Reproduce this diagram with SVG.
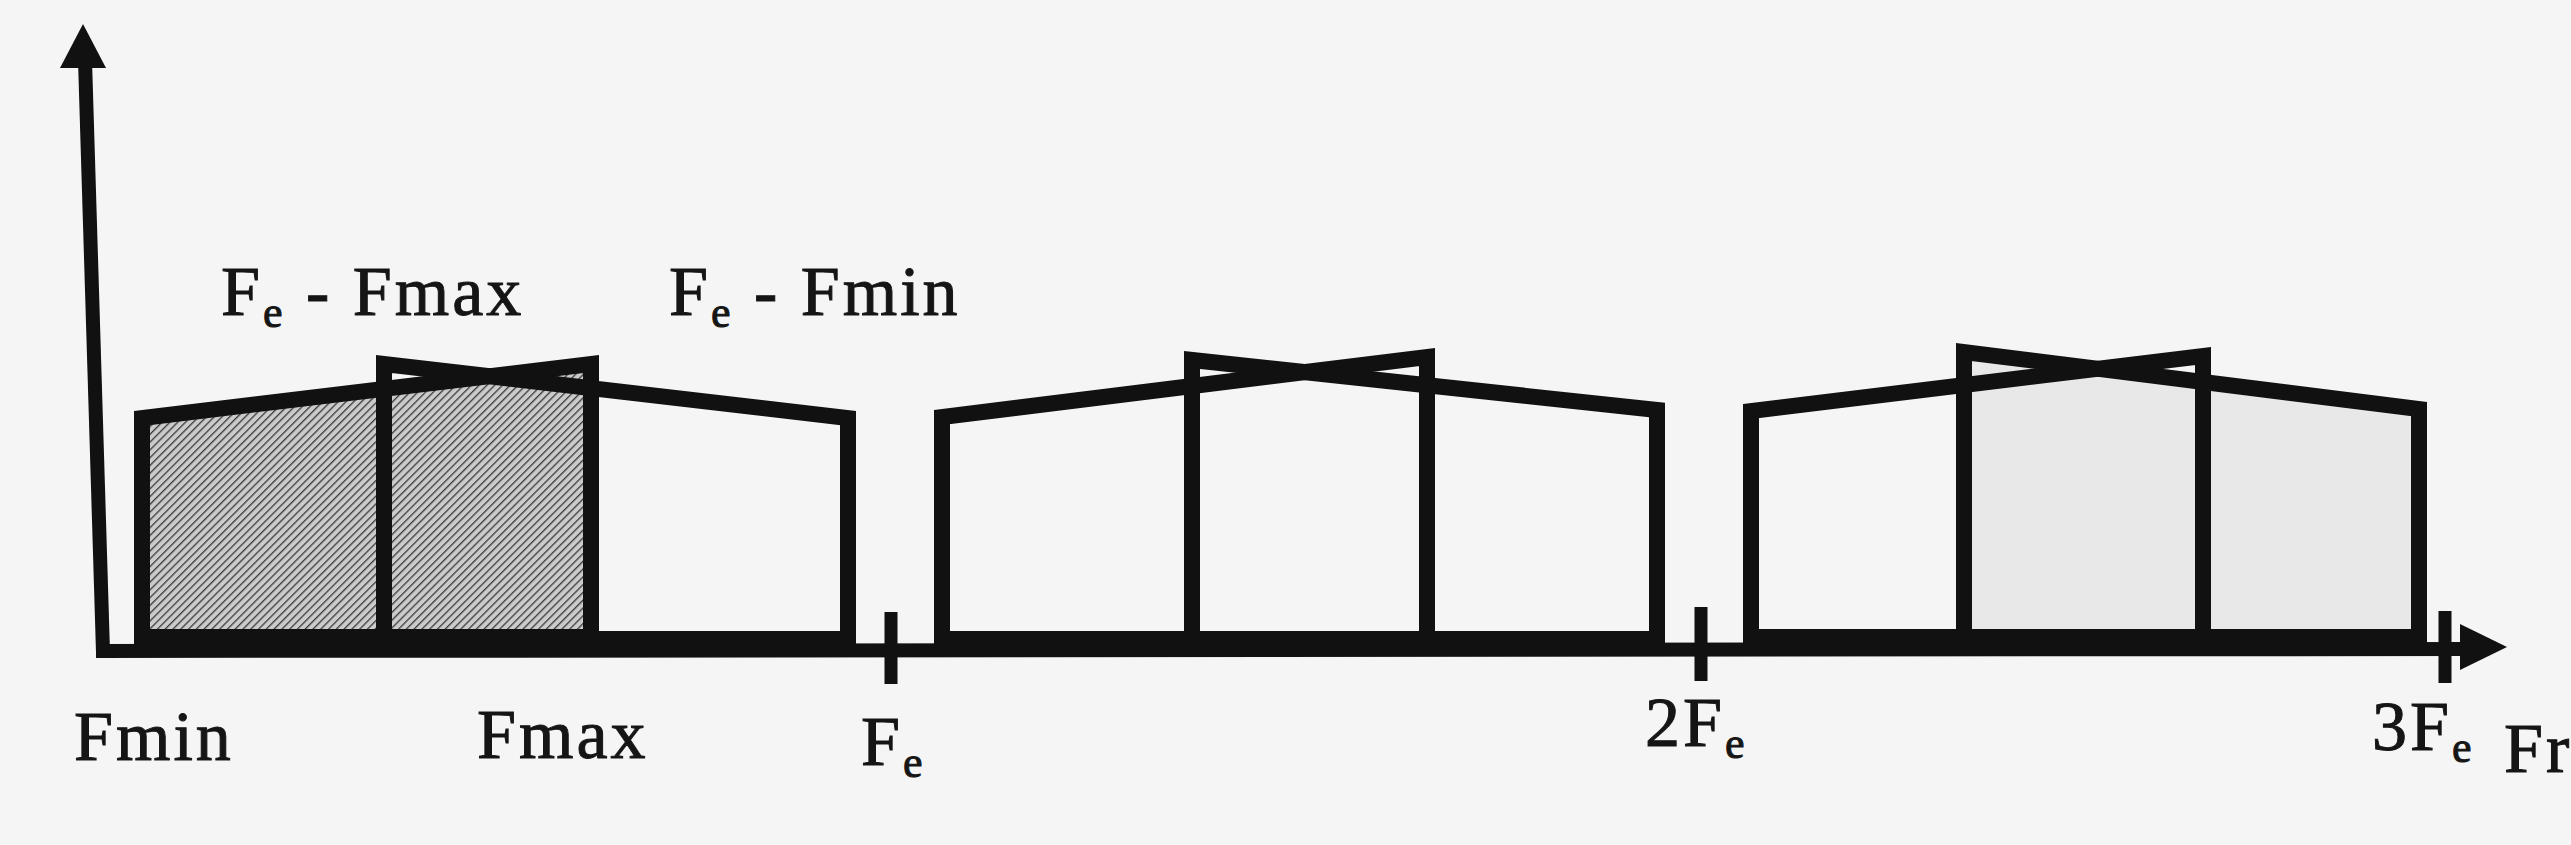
<svg xmlns="http://www.w3.org/2000/svg" width="2571" height="845" viewBox="0 0 2571 845">
  <defs>
    <pattern id="hatch" width="5.5" height="5.5" patternUnits="userSpaceOnUse" patternTransform="rotate(45)">
      <rect width="5.5" height="5.5" fill="#cbcbcb"/>
      <line x1="0" y1="0" x2="0" y2="5.5" stroke="#3a3a3a" stroke-width="2.6"/>
    </pattern>
  </defs>
  <style>
    .band { stroke: #111; stroke-width: 16; stroke-linejoin: miter; stroke-miterlimit: 10; }
    .axis { stroke: #111; stroke-width: 14; fill: none; }
    .tick { stroke: #111; stroke-width: 13; }
    .lbl { font-family: "Liberation Serif", "Times New Roman", serif; font-size: 70px; fill: #151515; stroke: #151515; stroke-width: 1; letter-spacing: 3px; }
    .sub { font-size: 44px; }
  </style>
  <rect width="2571" height="845" fill="#f5f5f5"/>

  <g id="block1">
    <polygon class="band" points="142,637 142,418 591,364 591,637" fill="url(#hatch)"/>
    <polygon class="band" points="384,639 384,364 848,418 848,639" fill="none"/>
  </g>
  <g id="block2">
    <polygon class="band" points="942,639 942,417 1427,357 1427,639" fill="none"/>
    <polygon class="band" points="1192,639 1192,360 1657,410 1657,639" fill="none"/>
  </g>
  <g id="block3">
    <polygon class="band" points="1964,637 1964,352 2419,409 2419,637" fill="#e8e8e8"/>
    <polygon class="band" points="1751,637 1751,411 2203,356 2203,637" fill="none"/>
  </g>

  <g id="connectors">
    <line class="axis" x1="85" y1="60" x2="103" y2="652"/>
    <polygon points="60,68 83,24 106,68" fill="#111"/>
    <line class="axis" x1="96" y1="651" x2="2470" y2="649"/>
    <polygon points="2460,624 2507,647 2460,670" fill="#111"/>
    <line class="tick" x1="891" y1="612" x2="891" y2="684"/>
    <line class="tick" x1="1701" y1="607" x2="1701" y2="681"/>
    <line class="tick" x1="2445" y1="611" x2="2445" y2="683"/>
  </g>

  <g id="labels">
    <text class="lbl" x="221" y="315">F<tspan class="sub" dy="12">e</tspan><tspan dy="-12"> - Fmax</tspan></text>
    <text class="lbl" x="669" y="315">F<tspan class="sub" dy="12">e</tspan><tspan dy="-12"> - Fmin</tspan></text>
    <text class="lbl" x="74" y="760">Fmin</text>
    <text class="lbl" x="477" y="758">Fmax</text>
    <text class="lbl" x="861" y="765">F<tspan class="sub" dy="12">e</tspan></text>
    <text class="lbl" x="1645" y="746">2F<tspan class="sub" dy="12">e</tspan></text>
    <text class="lbl" x="2372" y="750">3F<tspan class="sub" dy="12">e</tspan></text>
    <text class="lbl" x="2504" y="772">Fr</text>
  </g>
</svg>
